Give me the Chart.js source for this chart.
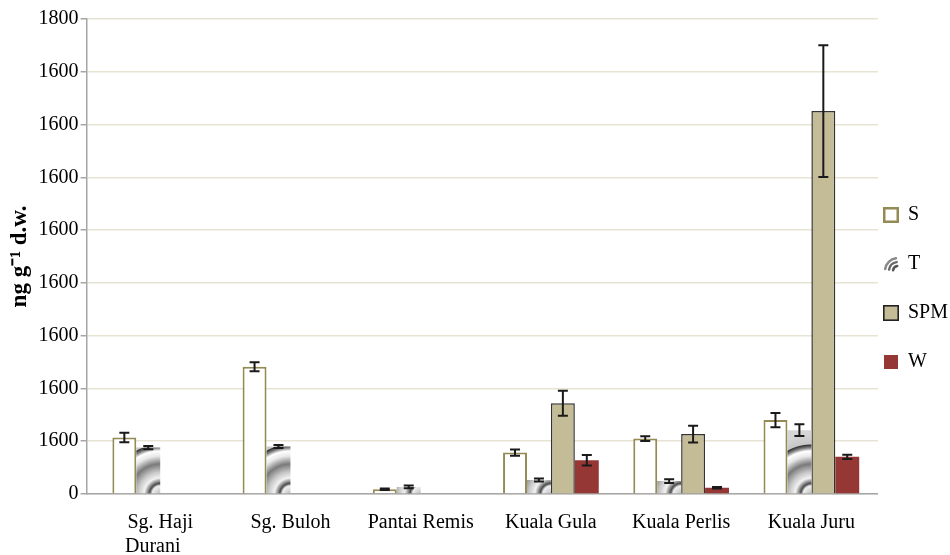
<!DOCTYPE html>
<html>
<head>
<meta charset="utf-8">
<script src="https://cdn.jsdelivr.net/npm/chart.js@4.4.1/dist/chart.umd.min.js"></script>
<style>
html,body{margin:0;padding:0;background:#fff;}
canvas{display:block;}
</style>
</head>
<body>
<canvas id="c" width="950" height="555"></canvas>
<script>
const categories = [["Sg. Haji","Durani   "], "Sg. Buloh", "Pantai Remis", "Kuala Gula", "Kuala Perlis", "Kuala Juru"];
const seriesNames = ["S", "T", "SPM", "W"];
const valuesS   = [214, 482, 18, 157, 210, 280];
const valuesT   = [176, 180, 27, 53, 49, 242];
const valuesSPM = [0, 0, 0, 344, 227, 1451];
const valuesW   = [0, 0, 0, 128, 24, 141];
const errorsS   = [18, 17, 3, 12, 9, 27];
const errorsT   = [6, 6, 5, 6, 7, 22];
const errorsSPM = [0, 0, 0, 47, 32, 250];
const errorsW   = [0, 0, 0, 20, 3, 8];
const yTickLabels = ["0","1600","1600","1600","1600","1600","1600","1600","1600","1800"];

const FONT = "'Liberation Serif','Times New Roman',serif";

function ringStops(g){
  const R = 60;
  const stops = [[0,'#bdbdbd'],[8,'#efefef'],[10.5,'#4a4a4a'],[13,'#9a9a9a'],[16,'#f2f2f2'],[22,'#c8c8c8'],[30,'#7a7a7a'],[38,'#e8e8e8'],[43,'#ffffff'],[46,'#8a8a8a'],[49,'#333333'],[50,'#c6c6c6'],[60,'#d6d6d6']];
  stops.forEach(s=>g.addColorStop(s[0]/R, s[1]));
  return g;
}

function makeIcon(kind){
  const c = document.createElement('canvas');
  c.width = 16; c.height = 16;
  const x = c.getContext('2d');
  if(kind==='S'){ x.fillStyle='#fff'; x.fillRect(0,0,16,16); x.strokeStyle='#948a54'; x.lineWidth=2.5; x.strokeRect(1.25,1.25,13.5,13.5); }
  else if(kind==='T'){
    x.fillStyle='#ffffff'; x.fillRect(0,0,16,16);
    x.lineCap='round';
    [[13,'#8a8a8a',2.5],[9,'#6a6a6a',2.5],[5,'#555',2.5]].forEach(a=>{x.strokeStyle=a[1];x.lineWidth=a[2];x.beginPath();x.arc(15,15,a[0],Math.PI*1.05,Math.PI*1.45);x.stroke();});
  }
  else if(kind==='SPM'){ x.fillStyle='#c4bc96'; x.fillRect(0,0,16,16); x.strokeStyle='#222'; x.lineWidth=1.6; x.strokeRect(0.8,0.8,14.4,14.4); }
  else { x.fillStyle='#953735'; x.fillRect(1,1,14,14); }
  return c;
}
const icons = seriesNames.map(makeIcon);

function tFill(ctx){
  const chart = ctx.chart;
  const xs = chart.scales && chart.scales.x, ys = chart.scales && chart.scales.y;
  if(ctx.type !== 'data' || !xs || !ys || !chart.chartArea) return '#9a9a9a';
  const cx = xs.getPixelForValue(ctx.dataIndex);
  const cy = ys.getPixelForValue(0);
  return ringStops(chart.ctx.createRadialGradient(cx, cy, 0, cx, cy, 60));
}

const errorSets = [errorsS, errorsT, errorsSPM, errorsW];
const errorBarPlugin = {
  id: 'errorBars',
  afterDatasetsDraw(chart){
    const ctx = chart.ctx, ys = chart.scales.y;
    ctx.save();
    ctx.strokeStyle = '#1a1a1a';
    ctx.lineWidth = 2;
    chart.data.datasets.forEach((ds, i) => {
      const meta = chart.getDatasetMeta(i);
      meta.data.forEach((bar, j) => {
        const v = ds.data[j], e = errorSets[i][j];
        if(!v || !e) return;
        const x = bar.x;
        const y1 = ys.getPixelForValue(v + e), y2 = ys.getPixelForValue(v - e);
        ctx.beginPath();
        ctx.moveTo(x, y1); ctx.lineTo(x, y2);
        ctx.moveTo(x-5, y1); ctx.lineTo(x+5, y1);
        ctx.moveTo(x-5, y2); ctx.lineTo(x+5, y2);
        ctx.stroke();
      });
    });
    ctx.restore();
  }
};

new Chart(document.getElementById('c'), {
  type: 'bar',
  data: {
    labels: categories,
    datasets: [
      { label: seriesNames[0], data: valuesS, backgroundColor: '#ffffff', borderColor: '#948a54', borderWidth: 2 },
      { label: seriesNames[1], data: valuesT, backgroundColor: tFill, borderWidth: 0 },
      { label: seriesNames[2], data: valuesSPM, backgroundColor: '#c4bc96', borderColor: '#333333', borderWidth: 1.5 },
      { label: seriesNames[3], data: valuesW, backgroundColor: '#953735', borderWidth: 0 }
    ]
  },
  options: {
    responsive: false,
    devicePixelRatio: 1,
    animation: false,
    layout: { padding: { top: 19, right: -8, left: 6, bottom: -21 } },
    datasets: { bar: { categoryPercentage: 0.735, barPercentage: 1.0 } },
    scales: {
      x: {
        grid: { display: false, drawTicks: false },
        border: { display: true, color: '#a6a6a6', width: 1.5 },
        ticks: { color: '#000', font: { family: FONT, size: 20 }, padding: 17, maxRotation: 0, autoSkip: false },
        afterBuildTicks: (scale) => { scale._startValue = -0.5654; scale._valueRange = 6.0769; }
      },
      y: {
        min: 0, max: 1800,
        grid: { color: '#e7e4d4', lineWidth: 1.5, tickColor: '#a6a6a6', tickLength: 6 },
        border: { display: true, color: '#a6a6a6', width: 1.5 },
        ticks: { stepSize: 200, color: '#000', font: { family: FONT, size: 20 }, padding: 2,
                 callback: (v, i) => yTickLabels[i] },
        title: { display: true, text: 'ng g\u207B\u00B9 d.w.', color: '#000', font: { family: FONT, size: 23, weight: 'bold' }, padding: { top: 0, bottom: 3 } }
      }
    },
    plugins: {
      legend: {
        position: 'right',
        align: 'center',
        title: { display: true, text: ' ', color: 'rgba(0,0,0,0)', font: { size: 1, lineHeight: '1px' }, padding: 2 },
        labels: {
          usePointStyle: true,
          pointStyleWidth: 14,
          color: '#000',
          font: { family: FONT, size: 20, lineHeight: '43px' },
          padding: 6,
          generateLabels: () => seriesNames.map((n, i) => ({ text: [n], fontColor: '#000000', pointStyle: icons[i], fillStyle: '#fff', strokeStyle: '#fff', lineWidth: 0, datasetIndex: i, hidden: false }))
        }
      },
      tooltip: { enabled: false }
    }
  },
  plugins: [errorBarPlugin]
});
</script>
</body>
</html>
